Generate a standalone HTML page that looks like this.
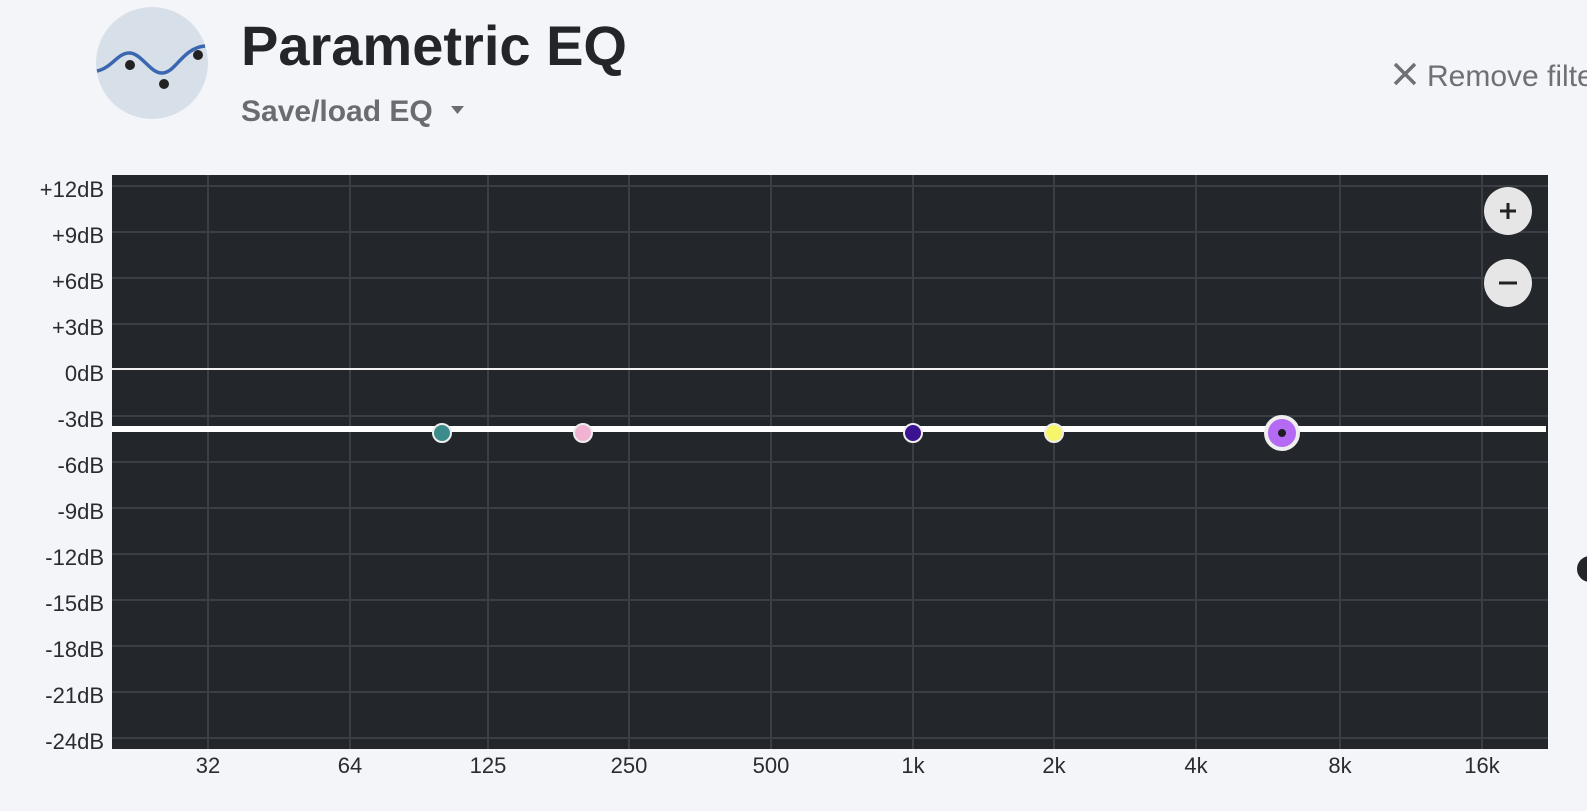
<!DOCTYPE html>
<html><head><meta charset="utf-8"><style>
body{margin:0;width:1587px;height:811px;background:#f4f5f9;overflow:hidden;font-family:"Liberation Sans",sans-serif;}
</style></head><body>
<svg width="1587" height="811" xmlns="http://www.w3.org/2000/svg" style="position:absolute;left:0;top:0">
<circle cx="152" cy="63" r="56" fill="#d7dfe9"/>
<path d="M97 71 C112 68 118 52 130 53 C142 54 150 73 162 73 C176 73 182 48 205 46" fill="none" stroke="#3a67b0" stroke-width="3.5"/>
<circle cx="130" cy="65" r="5" fill="#222"/><circle cx="164" cy="84" r="5" fill="#222"/><circle cx="198" cy="55" r="5" fill="#222"/>
<text x="241" y="65" font-size="56" font-weight="bold" fill="#24252a">Parametric EQ</text>
<text x="241" y="121" font-size="30" font-weight="bold" fill="#6b6c72">Save/load EQ</text>
<path d="M451 106 L464 106 L457.5 114 Z" fill="#6b6c72"/>
<path d="M1395 64 L1415 84 M1415 64 L1395 84" stroke="#6f7075" stroke-width="3.5"/>
<text x="1427" y="86" font-size="30" fill="#6f7075">Remove filters</text>
<rect x="112" y="175" width="1436" height="574" fill="#23262b"/>
<g stroke="#3b3e44" stroke-width="2">
<line x1="112" x2="1548" y1="186" y2="186"/><line x1="112" x2="1548" y1="232" y2="232"/><line x1="112" x2="1548" y1="278" y2="278"/><line x1="112" x2="1548" y1="324" y2="324"/><line x1="112" x2="1548" y1="416" y2="416"/><line x1="112" x2="1548" y1="462" y2="462"/><line x1="112" x2="1548" y1="508" y2="508"/><line x1="112" x2="1548" y1="554" y2="554"/><line x1="112" x2="1548" y1="600" y2="600"/><line x1="112" x2="1548" y1="646" y2="646"/><line x1="112" x2="1548" y1="692" y2="692"/><line x1="112" x2="1548" y1="738" y2="738"/>
<line x1="208" x2="208" y1="175" y2="749"/><line x1="350" x2="350" y1="175" y2="749"/><line x1="488" x2="488" y1="175" y2="749"/><line x1="629" x2="629" y1="175" y2="749"/><line x1="771" x2="771" y1="175" y2="749"/><line x1="913" x2="913" y1="175" y2="749"/><line x1="1054" x2="1054" y1="175" y2="749"/><line x1="1196" x2="1196" y1="175" y2="749"/><line x1="1340" x2="1340" y1="175" y2="749"/><line x1="1482" x2="1482" y1="175" y2="749"/>
</g>
<line x1="112" x2="1548" y1="369" y2="369" stroke="#f2f2f2" stroke-width="2"/>
<line x1="112" x2="1546" y1="429" y2="429" stroke="#ffffff" stroke-width="6"/>
<g stroke="#eee" stroke-width="2">
<circle cx="442" cy="433" r="9" fill="#3d8c8c"/>
<circle cx="583" cy="433" r="9" fill="#f0b3d2"/>
<circle cx="913" cy="433" r="9" fill="#3b1290"/>
<circle cx="1054" cy="433" r="9" fill="#f7f56a"/>
</g>
<circle cx="1282" cy="433" r="16" fill="#b46af2" stroke="#eee" stroke-width="4"/>
<circle cx="1282" cy="433" r="4" fill="#1e1e22"/>
<circle cx="1508" cy="211" r="24" fill="#e6e6e6"/>
<path d="M1500 211 H1516 M1508 203 V219" stroke="#222" stroke-width="3"/>
<circle cx="1508" cy="283" r="24" fill="#e6e6e6"/>
<path d="M1499 283 H1517" stroke="#222" stroke-width="3"/>
<circle cx="1590" cy="569" r="13" fill="#24252a"/>
<g font-size="22" fill="#2a2b30" text-anchor="end">
<text x="104" y="197">+12dB</text><text x="104" y="243">+9dB</text><text x="104" y="289">+6dB</text><text x="104" y="335">+3dB</text><text x="104" y="381">0dB</text><text x="104" y="427">-3dB</text><text x="104" y="473">-6dB</text><text x="104" y="519">-9dB</text><text x="104" y="565">-12dB</text><text x="104" y="611">-15dB</text><text x="104" y="657">-18dB</text><text x="104" y="703">-21dB</text><text x="104" y="749">-24dB</text>
</g>
<g font-size="22" fill="#2a2b30" text-anchor="middle">
<text x="208" y="773">32</text><text x="350" y="773">64</text><text x="488" y="773">125</text><text x="629" y="773">250</text><text x="771" y="773">500</text><text x="913" y="773">1k</text><text x="1054" y="773">2k</text><text x="1196" y="773">4k</text><text x="1340" y="773">8k</text><text x="1482" y="773">16k</text>
</g>
</svg>
</body></html>
